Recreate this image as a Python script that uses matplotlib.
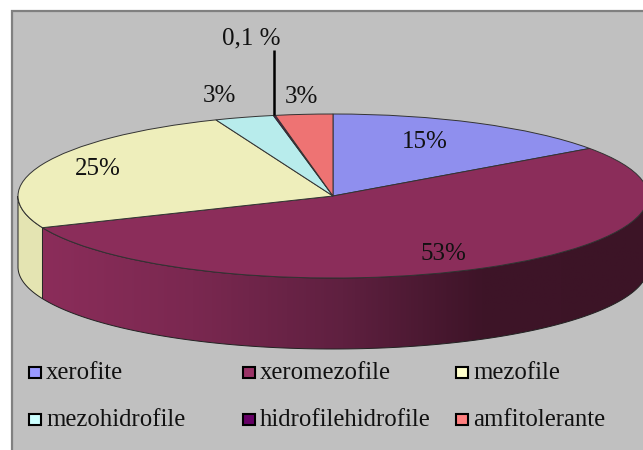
import numpy as np
import matplotlib
matplotlib.use("Agg")
import matplotlib.pyplot as plt
from matplotlib.patches import Polygon, Rectangle
from matplotlib.colors import LinearSegmentedColormap

plt.rcParams['font.family'] = ['Liberation Serif', 'DejaVu Serif']

categories = ['xerofite', 'xeromezofile', 'mezofile', 'mezohidrofile', 'hidrofilehidrofile', 'amfitolerante']
values = [15, 53, 25, 3, 0.1, 2.9]
slice_labels = ['15%', '53%', '25%', '3%', '0,1 %', '3%']
top_colors = ['#8F8FEE', '#8B2D5A', '#EEEEBB', '#B8ECEC', '#5C0A5C', '#EE7373']
legend_colors = ['#9999FF', '#993366', '#FFFFCC', '#CCFFFF', '#660066', '#FF8080']

W, H = 643, 450
CX, CY, A, B, D = 333, 196, 315, 82, 71

fig = plt.figure(figsize=(W / 100, H / 100), dpi=100, facecolor='white')
px = fig.add_axes([0, 0, 1, 1])
px.set_xlim(0, W)
px.set_ylim(H, 0)
px.axis('off')
px.add_patch(Rectangle((11.5, 10.5), W, H, fc='#C0C0C0', ec='#808080', lw=1.6))

# clockwise boundary angles from the values
bounds = np.deg2rad(np.concatenate([[0], np.cumsum(values)]) / np.sum(values) * 360)


def side_poly(t0, t1):
    t = np.linspace(t0, t1, 120)
    x = CX + A * np.sin(t)
    y = CY - B * np.cos(t)
    return np.r_[np.c_[x, y], np.c_[x, y + D][::-1]]


# side wall: xeromezofile (front) with gradient, mezofile on the left
maroon = Polygon(side_poly(np.pi / 2, bounds[2]), fc='none', ec='#222222', lw=0.7, zorder=3)
px.add_patch(maroon)
cmap = LinearSegmentedColormap.from_list('m', [(0, '#8B2D5A'), (0.25, '#7A2850'), (0.5, '#5F2040'), (0.73, '#3E1428'), (1, '#3C1426')])
im = px.imshow(np.linspace(0, 1, 256)[None, :], extent=(43, 643, 350, 140), cmap=cmap,
               aspect='auto', zorder=2)
im.set_clip_path(maroon)
px.set_xlim(0, W)
px.set_ylim(H, 0)
px.add_patch(Polygon(side_poly(bounds[2], 3 * np.pi / 2), fc='#E4E4B2', ec='#222222', lw=0.7, zorder=3))

# top surface
pie_ax = fig.add_axes([(CX - A) / W, 1 - (CY + B) / H, 2 * A / W, 2 * B / H], zorder=2)
pie_ax.patch.set_alpha(0)
wedges, _ = pie_ax.pie(values, colors=top_colors, startangle=90, counterclock=False, radius=1,
                       wedgeprops=dict(edgecolor='#333333', linewidth=0.7))
pie_ax.set_aspect('auto')
pie_ax.set_xlim(-1, 1)
pie_ax.set_ylim(-1, 1)
pie_ax.set_clip_on(False)

# labels
over = fig.add_axes([0, 0, 1, 1], zorder=3)
over.set_xlim(0, W)
over.set_ylim(H, 0)
over.axis('off')
over.patch.set_alpha(0)
mid = 0.5 * (bounds[4] + bounds[5])
lx = CX + A * np.sin(mid)
over.plot([lx, lx], [CY - B * np.cos(mid), 50], color='black', lw=1.8, solid_capstyle='butt')
label_pos = [(425, 142), (443, 254), (98, 169), (219, 96), (251, 38), (301, 97)]
for s, (x, y) in zip(slice_labels, label_pos):
    over.text(x, y, s, ha='center', va='center', fontsize=18, color='#111111')

# legend
leg_x = [29, 243, 456]
leg_y = [372, 419]
for i, (name, col) in enumerate(zip(categories, legend_colors)):
    x = leg_x[i % 3]
    y = leg_y[i // 3]
    over.add_patch(Rectangle((x, y - 5.5), 12, 11, fc=col, ec='black', lw=1.5))
    over.text(x + 17, y + 1, name, ha='left', va='center', fontsize=17.8, color='#111111')

fig.savefig('out.png', dpi=100)
